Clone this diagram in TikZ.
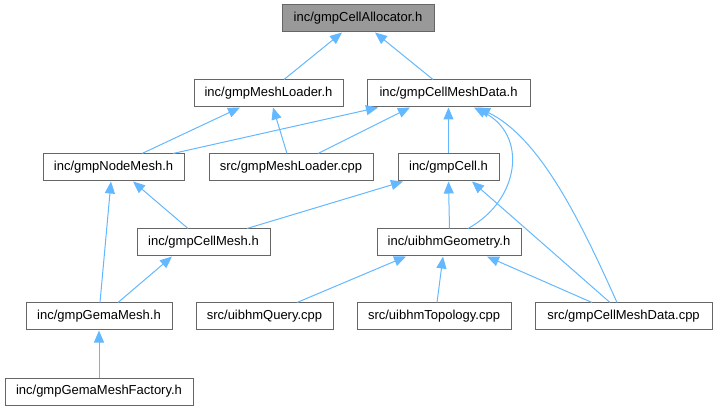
\documentclass[tikz,border=0pt]{standalone}
\usepackage{fontspec}
\setmainfont{Liberation Sans}
\usetikzlibrary{arrows.meta}
\definecolor{edgeblue}{HTML}{63B8FF}
\definecolor{boxborder}{HTML}{666666}
\definecolor{boxfill}{HTML}{999999}
\tikzset{
  hbox/.style={draw=boxborder, fill=white, line width=1pt, minimum height=27pt, inner sep=0pt, font=\fontsize{13}{15}\selectfont},
  hl/.style={hbox, fill=boxfill},
  edge/.style={draw=edgeblue, line width=1pt, -{Triangle[length=12pt,width=10pt]}}
}
\begin{document}
\begin{tikzpicture}[x=1pt,y=-1pt]
\useasboundingbox (0,0) rectangle (717,411);
\node[hl, minimum width=152pt] (alloc) at (358,18.5) {inc/gmpCellAllocator.h};
\node[hbox, minimum width=149pt] (mlh) at (268.5,93.5) {inc/gmpMeshLoader.h};
\node[hbox, minimum width=163pt] (cmd) at (448.5,93.5) {inc/gmpCellMeshData.h};
\node[hbox, minimum width=141pt] (nm) at (113.5,167.5) {inc/gmpNodeMesh.h};
\node[hbox, minimum width=164pt] (mlcpp) at (291,167.5) {src/gmpMeshLoader.cpp};
\node[hbox, minimum width=101pt] (cell) at (448.5,167.5) {inc/gmpCell.h};
\node[hbox, minimum width=133pt] (cm) at (203.5,242.5) {inc/gmpCellMesh.h};
\node[hbox, minimum width=144pt] (geo) at (449,242.5) {inc/uibhmGeometry.h};
\node[hbox, minimum width=146pt] (gm) at (99,316.5) {inc/gmpGemaMesh.h};
\node[hbox, minimum width=137pt] (q) at (264.5,316.5) {src/uibhmQuery.cpp};
\node[hbox, minimum width=154pt] (topo) at (434,316.5) {src/uibhmTopology.cpp};
\node[hbox, minimum width=177pt] (cmdcpp) at (623.5,316.5) {src/gmpCellMeshData.cpp};
\node[hbox, minimum width=188pt] (fac) at (99,391.5) {inc/gmpGemaMeshFactory.h};

\draw[edge] ([xshift=15.5pt]mlh.north) -- ([xshift=-16pt]alloc.south);
\draw[edge] ([xshift=-15.5pt]cmd.north) -- ([xshift=17pt]alloc.south);
\draw[edge] ([xshift=28.5pt]nm.north) -- ([xshift=-28.5pt]mlh.south);
\draw[edge] ([xshift=-4pt]mlcpp.north) -- ([xshift=4.5pt]mlh.south);
\draw[edge] ([xshift=59.5pt]nm.north) -- ([xshift=-70.5pt]cmd.south);
\draw[edge] ([xshift=27pt]mlcpp.north) -- ([xshift=-38.5pt]cmd.south);
\draw[edge] (cell.north) -- (cmd.south);
\draw[edge] ([xshift=19pt]geo.north) .. controls (520,200) and (528,135) .. ([xshift=25.5pt]cmd.south);
\draw[edge] ([xshift=-6.5pt]cmdcpp.north) .. controls (580,220) and (540,138) .. ([xshift=29.5pt]cmd.south);
\draw[edge] ([xshift=1pt]gm.north) -- ([xshift=-2.5pt]nm.south);
\draw[edge] ([xshift=-15.5pt]cm.north) -- ([xshift=19.5pt]nm.south);
\draw[edge] ([xshift=43.5pt]cm.north) -- ([xshift=-45.5pt]cell.south);
\draw[edge] ([xshift=0.5pt]geo.north) -- (cell.south);
\draw[edge] ([xshift=-13.5pt]cmdcpp.north) -- ([xshift=23.5pt]cell.south);
\draw[edge] ([xshift=19pt]gm.north) -- ([xshift=-31.5pt]cm.south);
\draw[edge] ([xshift=32.5pt]q.north) -- ([xshift=-43pt]geo.south);
\draw[edge] ([xshift=3pt]topo.north) -- ([xshift=-6pt]geo.south);
\draw[edge] ([xshift=-31.5pt]cmdcpp.north) -- ([xshift=38pt]geo.south);
\draw[edge] (fac.north) -- (gm.south);
\end{tikzpicture}
\end{document}
